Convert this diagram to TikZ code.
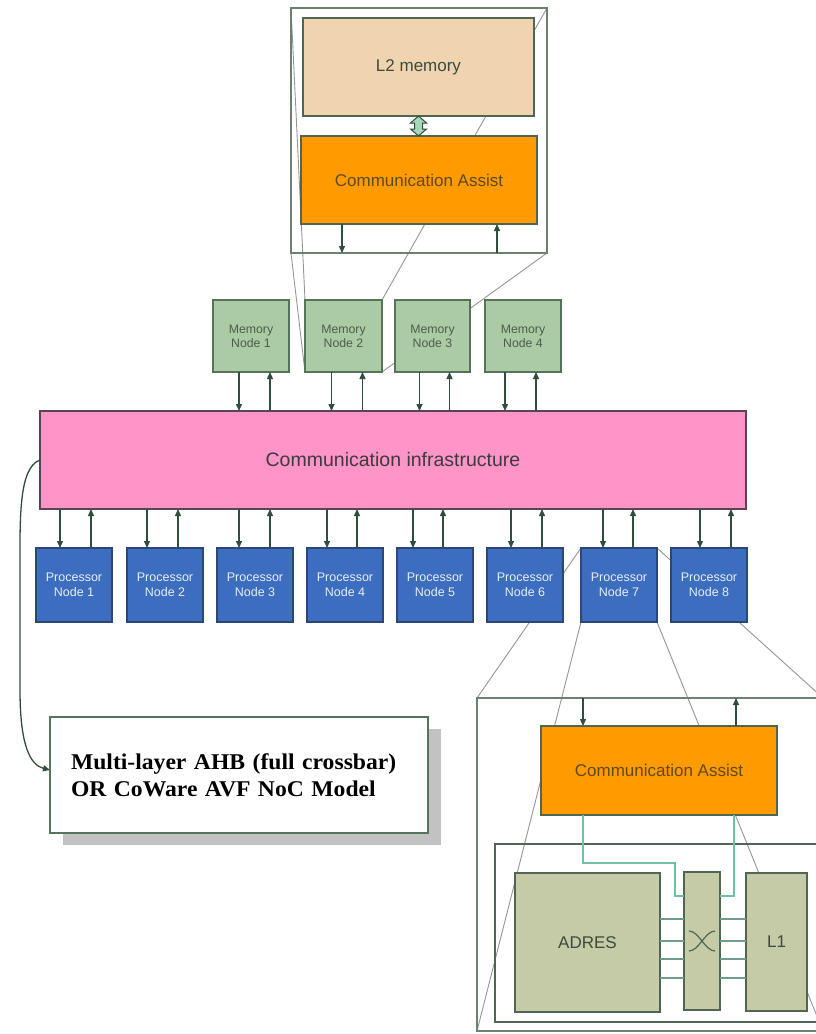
\documentclass[tikz,border=0pt]{standalone}
\usepackage{fontspec}
\setmainfont{Liberation Sans}
\newfontfamily\boxserif[FakeStretch=1.05]{Liberation Serif}
\usetikzlibrary{arrows.meta,shadows,calc}
\pgfdeclarelayer{bg}
\pgfsetlayers{bg,main}

\definecolor{memfill}{HTML}{AACBA4}
\definecolor{memline}{HTML}{56735B}
\definecolor{memtext}{HTML}{4B5E4D}
\definecolor{procfill}{HTML}{3C6DBE}
\definecolor{procline}{HTML}{2A4778}
\definecolor{proctext}{HTML}{E6EEFA}
\definecolor{pinkfill}{HTML}{FF94C8}
\definecolor{pinkline}{HTML}{5E4452}
\definecolor{pinktext}{HTML}{3C3C3C}
\definecolor{l2fill}{HTML}{F0D4B0}
\definecolor{cafill}{HTML}{FF9A00}
\definecolor{catext}{HTML}{5E4A1A}
\definecolor{boxline}{HTML}{4F6652}
\definecolor{olivefill}{HTML}{C5CBA6}
\definecolor{olivetext}{HTML}{3D4A3D}
\definecolor{framecol}{HTML}{6C8270}
\definecolor{zoomgray}{HTML}{959595}
\definecolor{arrcol}{HTML}{2F4E3B}
\definecolor{linkteal}{HTML}{6FC1A2}
\definecolor{busgray}{HTML}{6E9C8E}
\definecolor{shadowcol}{HTML}{C2C2C2}
\definecolor{dblfill}{HTML}{A6D6B8}

\begin{document}
\begin{tikzpicture}[x=1pt,y=-1pt,
  blk/.style={draw, line width=1.3pt, inner sep=0pt, outer sep=0pt,
    anchor=north west, align=center},
  wh/.style 2 args={minimum width=#1pt, minimum height=#2pt},
  memnode/.style={blk, fill=memfill, draw=memline, text=memtext,
    font=\fontsize{12.3}{14}\selectfont},
  procnode/.style={blk, fill=procfill, draw=procline, text=proctext,
    font=\fontsize{12.5}{15}\selectfont},
  assist/.style={blk, fill=cafill, draw=boxline, text=catext,
    font=\fontsize{17}{20}\selectfont},
  olive/.style={blk, fill=olivefill, draw=boxline, text=olivetext,
    font=\fontsize{17}{20}\selectfont},
  frame/.style={blk, draw=framecol, line width=1.6pt},
  zoomline/.style={draw=zoomgray, line width=0.9pt},
  arr/.style={draw=arrcol, line width=1.3pt, -{Triangle[length=7pt,width=6pt]}},
  link/.style={draw=linkteal, line width=1.5pt},
  bus/.style={draw=busgray, line width=1.5pt}]

\useasboundingbox (0,0) rectangle (816,1034);
\clip (0,0) rectangle (816,1034);

% ---- memory subsystem (magnified) ----
\node[frame, wh={256}{245}] (ftop) at (291,8) {};
\node[blk, wh={231}{98}, fill=l2fill, draw=boxline, text=olivetext,
  font=\fontsize{17}{20}\selectfont] (l2) at (303,18) {L2 memory};
\node[assist, wh={236}{88}] (catop) at (301,136) {Communication Assist};
\draw[draw=arrcol, line width=1pt, fill=dblfill, shift={(l2.south)}]
  (0,0) -- (-8,7) -- (-4,7) -- (-4,13) -- (-8,13) -- (0,20) -- (8,13)
  -- (4,13) -- (4,7) -- (8,7) -- cycle;
\draw[arr] ([xshift=-77pt]catop.south) -- ([xshift=-77pt]catop.south |- ftop.south);
\draw[arr] ([xshift=78pt]catop.south |- ftop.south) -- ([xshift=78pt]catop.south);

% ---- memory nodes ----
\node[memnode, wh={76}{72}] (mn1) at (213,300) {Memory\\Node 1};
\node[memnode, wh={77}{72}] (mn2) at (305,300) {Memory\\Node 2};
\node[memnode, wh={75}{72}] (mn3) at (395,300) {Memory\\Node 3};
\node[memnode, wh={76}{72}] (mn4) at (485,300) {Memory\\Node 4};

% ---- interconnect ----
\node[blk, wh={706}{98}, fill=pinkfill, draw=pinkline, text=pinktext,
  font=\fontsize{19.5}{22}\selectfont] (ci) at (40,411) {Communication infrastructure};

\foreach \n/\d/\u in {mn1/-12/19, mn2/-12/19, mn3/-13/17, mn4/-18/13}{
  \draw[arr] ([xshift=\d pt]\n.south) -- ([xshift=\d pt]\n.south |- ci.north);
  \draw[arr] ([xshift=\u pt]\n.south |- ci.north) -- ([xshift=\u pt]\n.south);
}

% ---- processor nodes ----
\foreach \i/\x in {1/36, 2/127, 3/217, 4/307, 5/397, 6/487, 7/581, 8/671}{
  \node[procnode, wh={76}{74}] (pn\i) at (\x,548) {Processor\\Node \i};
}
\foreach \n/\d/\u in {pn1/-14/17, pn2/-18/13, pn3/-16/15, pn4/-18/12,
                     pn5/-22/8, pn6/-14/17, pn7/-16/14, pn8/-9/22}{
  \draw[arr] ([xshift=\d pt]\n.north |- ci.south) -- ([xshift=\d pt]\n.north);
  \draw[arr] ([xshift=\u pt]\n.north) -- ([xshift=\u pt]\n.north |- ci.south);
}

% ---- interconnect model note ----
\node[blk, wh={378}{116}, fill=white, draw=memline, line width=1.2pt,
  drop shadow={shadow xshift=13pt, shadow yshift=-12pt, fill=shadowcol, opacity=1},
  text width=336pt, align=left, font=\boxserif\bfseries\fontsize{22.5}{27}\selectfont]
  (note) at (50,717) {Multi-layer AHB (full crossbar)\\OR CoWare AVF NoC Model};
\draw[arr] (ci.west) .. controls (18,468) and (20,520) .. (20,580)
  -- (20,690) .. controls (20,745) and (30,765) .. ([yshift=5pt]note.west);

% ---- processor subsystem (magnified) ----
\node[frame, wh={346}{333}] (fbot) at (477,698) {};
\node[assist, wh={236}{89}] (cabot) at (541,726) {Communication Assist};
\node[blk, wh={330}{178}, draw=boxline, line width=1.3pt] (inner) at (495,844) {};
\node[olive, wh={145}{139}] (adres) at (515,873) {ADRES};
\node[olive, wh={36}{138}] (xbar) at (684,872) {};
\node[olive, wh={61}{138}] (l1) at (746,873) {L1};

\draw[arr] ([xshift=-76pt]cabot.north |- fbot.north) -- ([xshift=-76pt]cabot.north);
\draw[arr] ([xshift=77pt]cabot.north) -- ([xshift=77pt]cabot.north |- fbot.north);

\draw[link] ([xshift=-76pt]cabot.south) |- ([xshift=-9pt,yshift=9pt]xbar.north west)
  |- ([yshift=45pt]xbar.west);
\draw[link] ([xshift=75pt]cabot.south) |- ([yshift=45pt]xbar.east);

\foreach \dy in {22,0,-18,-37}{
  \draw[bus] ([yshift=\dy pt]xbar.west -| adres.east) -- ([yshift=\dy pt]xbar.west);
  \draw[bus] ([yshift=\dy pt]xbar.east) -- ([yshift=\dy pt]xbar.east -| l1.west);
}
\draw[draw=boxline, line width=1.2pt, shift={(xbar.center)}]
  (-13,-10) .. controls (-3,-10) and (3,10) .. (13,10)
  (-13,10) .. controls (-3,10) and (3,-10) .. (13,-10);

% ---- magnification guides ----
\begin{pgfonlayer}{bg}
  \draw[zoomline] (ftop.north west) -- (mn2.north west);
  \draw[zoomline] (ftop.north east) -- (mn2.north east);
  \draw[zoomline] (ftop.south west) -- (mn2.south west);
  \draw[zoomline] (ftop.south east) -- (mn2.south east);
  \draw[zoomline] (pn7.north west) -- (fbot.north west);
  \draw[zoomline] (pn7.north east) -- (fbot.north east);
  \draw[zoomline] (pn7.south west) -- (fbot.south west);
  \draw[zoomline] (pn7.south east) -- (fbot.south east);
\end{pgfonlayer}
\end{tikzpicture}
\end{document}
